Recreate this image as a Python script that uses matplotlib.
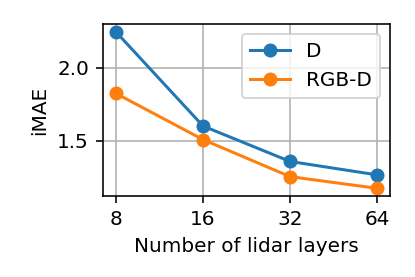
import matplotlib
matplotlib.use('Agg')
import matplotlib.pyplot as plt

# lidar layers and errors
layers = [8, 16, 32, 64]
imae_d = [2.245, 1.60, 1.357, 1.265]
imae_rgbd = [1.823, 1.507, 1.253, 1.173]

fig = plt.figure(figsize=(415/144., 277/144.), dpi=144)
ax = fig.add_axes([0.248, 0.292, 0.692, 0.621])

ax.plot(layers, imae_d, 'o-', label='D')
ax.plot(layers, imae_rgbd, 'o-', label='RGB-D')
ax.set_xscale('log', base=2)
ax.set_xticks(layers)
ax.set_xticklabels([str(l) for l in layers])
ax.minorticks_off()
ax.set_yticks([1.5, 2.0])
ax.set_xlabel('Number of lidar layers')
ax.set_ylabel('iMAE')
ax.grid(True)
ax.legend(loc='upper right')

fig.savefig('out.png', dpi=144)
